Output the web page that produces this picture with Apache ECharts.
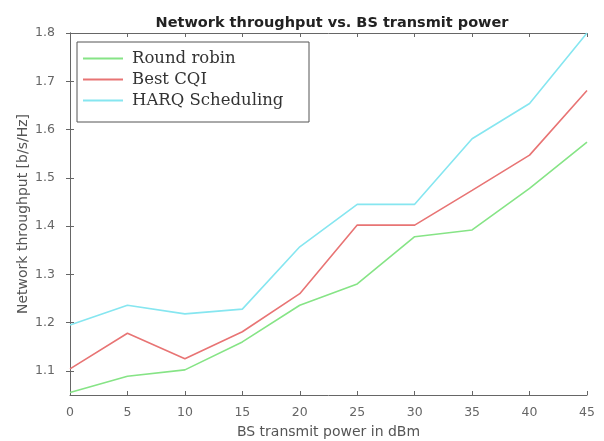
<!DOCTYPE html>
<html><head><meta charset="utf-8">
<script src="https://cdn.jsdelivr.net/npm/echarts@6/dist/echarts.min.js"></script>
<style>html,body{margin:0;padding:0;background:#fff}#c{width:604px;height:441px}</style>
</head><body><div id="c"></div>
<script>
const power = [0, 5, 10, 15, 20, 25, 30, 35, 40, 45];
const roundRobin = [1.055, 1.089, 1.102, 1.160, 1.236, 1.280, 1.378, 1.392, 1.478, 1.574];
const bestCQI    = [1.104, 1.178, 1.125, 1.181, 1.260, 1.402, 1.402, 1.474, 1.547, 1.681];
const harq       = [1.195, 1.236, 1.218, 1.228, 1.357, 1.445, 1.445, 1.581, 1.654, 1.800];
const yTicks = [1.1, 1.2, 1.3, 1.4, 1.5, 1.6, 1.7, 1.8];
const xTicks = [0, 5, 10, 15, 20, 25, 30, 35, 40, 45];
const names = ['Round robin', 'Best CQI', 'HARQ Scheduling'];
const colors = ['#86e486', '#e87474', '#86e6f0'];

const pair = (ys) => power.map((x, i) => [x, ys[i]]);
const axisCol = '#666';
const chart = echarts.init(document.getElementById('c'));
chart.setOption({
  animation: false,
  title: {
    text: 'Network throughput vs. BS transmit power',
    left: 327, top: 11, textAlign: 'center',
    textStyle: { fontFamily: 'DejaVu Sans', fontWeight: 'bold', fontSize: 14.5, color: '#222' }
  },
  grid: { left: 70, right: 17, top: 33, bottom: 46, containLabel: false, outerBoundsMode: 'none' },
  graphic: [{
    type: 'rect', shape: { x: 77, y: 42, width: 232, height: 80 }, z: 10,
    style: { fill: '#fff', stroke: '#555', lineWidth: 1 }
  }],
  legend: {
    orient: 'vertical', left: 83, top: 50, z: 11,
    itemWidth: 40, itemHeight: 2, itemGap: 4, padding: 0,
    icon: 'rect',
    textStyle: { fontFamily: 'DejaVu Serif', fontSize: 16.5, color: '#333', padding: [0, 0, 0, 4] },
    data: names
  },
  xAxis: [{
    type: 'value', min: 0, max: 45, interval: 5, position: 'bottom',
    name: 'BS transmit power in dBm', nameLocation: 'middle', nameGap: 30,
    nameTextStyle: { fontFamily: 'DejaVu Sans', fontSize: 14, color: '#555' },
    axisLine: { lineStyle: { color: axisCol } },
    axisTick: { inside: true, length: 4, lineStyle: { color: axisCol } },
    axisLabel: { fontFamily: 'DejaVu Sans', fontSize: 12.5, color: '#666', margin: 11,
      customValues: xTicks },
    splitLine: { show: false }
  }, {
    type: 'value', min: 0, max: 45, interval: 5, position: 'top',
    axisLine: { lineStyle: { color: axisCol } },
    axisTick: { inside: true, length: 4, lineStyle: { color: axisCol } },
    axisLabel: { show: false }, splitLine: { show: false }
  }],
  yAxis: [{
    type: 'value', min: 1.05, max: 1.8, position: 'left',
    name: 'Network throughput [b/s/Hz]', nameLocation: 'middle', nameGap: 40,
    nameMoveOverlap: false,
    nameTextStyle: { fontFamily: 'DejaVu Sans', fontSize: 14, color: '#555' },
    axisLine: { show: true, lineStyle: { color: axisCol } },
    axisTick: { show: true, inside: true, length: 4, lineStyle: { color: axisCol }, customValues: yTicks },
    axisLabel: { fontFamily: 'DejaVu Sans', fontSize: 12.5, color: '#666', margin: 15,
      customValues: yTicks, formatter: v => v.toFixed(1) },
    splitLine: { show: false }
  }, {
    type: 'value', min: 1.05, max: 1.8, position: 'right',
    axisLine: { show: true, lineStyle: { color: axisCol } },
    axisTick: { show: true, inside: true, length: 4, lineStyle: { color: axisCol }, customValues: yTicks },
    axisLabel: { show: false }, splitLine: { show: false }
  }],
  series: [
    { name: names[0], type: 'line', data: pair(roundRobin), showSymbol: false, symbol: 'none',
      lineStyle: { color: colors[0], width: 1.6 }, itemStyle: { color: colors[0] } },
    { name: names[1], type: 'line', data: pair(bestCQI), showSymbol: false, symbol: 'none',
      lineStyle: { color: colors[1], width: 1.6 }, itemStyle: { color: colors[1] } },
    { name: names[2], type: 'line', data: pair(harq), showSymbol: false, symbol: 'none',
      lineStyle: { color: colors[2], width: 1.6 }, itemStyle: { color: colors[2] } }
  ]
});
</script></body></html>
